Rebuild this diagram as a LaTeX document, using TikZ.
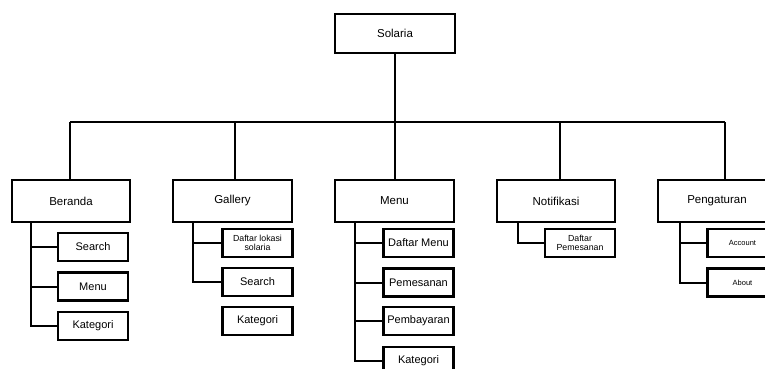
\documentclass[tikz,border=0pt]{standalone}
\usepackage{fontspec}
\setmainfont{Liberation Sans}
\begin{document}
\begin{tikzpicture}[x=1pt,y=-1pt,
  box/.style={draw=black,line width=2.2pt,fill=white,inner sep=0pt,align=center,font=\fontsize{11}{12}\selectfont},
  mainbox/.style={box,minimum width=118pt,minimum height=42pt,font=\fontsize{11.5}{12}\selectfont},
  subbox/.style={box,minimum width=70pt,minimum height=28pt},
  smallbox/.style={subbox,font=\fontsize{8.8}{9.5}\selectfont},
  tinybox/.style={subbox,font=\fontsize{7.5}{8}\selectfont},
  link/.style={draw=black,line width=2pt}]
\useasboundingbox (0,0) rectangle (765,369);
\clip (0,0) rectangle (765,369);
\fill[white] (0,0) rectangle (765,369);
% top
\node[mainbox,minimum width=120pt,minimum height=39pt] (sol) at (395,33.5) {Solaria};
% main nodes
\node[mainbox] (ber) at (71,201) {Beranda};
\node[mainbox,minimum width=119pt] (gal) at (232.5,201) {Gallery};
\node[mainbox,minimum width=119pt] (men) at (394.5,201) {Menu};
\node[mainbox] (not) at (556,201) {Notifikasi};
\node[mainbox] (pen) at (717,201) {Pengaturan};
% bus
\coordinate (busL) at (70,122);
\coordinate (busR) at (725,122);
\coordinate (busS) at (395,122);
\draw[link] (sol.south) -- (busS);
\draw[link] (busL) -- (busR);
\draw[link] (busL) -- (busL |- ber.north);
\draw[link] (235,122) -- (235,180);
\draw[link] (busS) -- (busS |- men.north);
\draw[link] (560,122) -- (560,180);
\draw[link] (busR) -- (busR |- pen.north);
% Beranda children
\node[subbox] (b1) at (93,247) {Search};
\node[subbox] (b2) at (93,286.5) {Menu};
\node[subbox] (b3) at (93,326) {Kategori};
\coordinate (bt) at (31,222);
\draw[link] (ber.south -| bt) |- (b3.west);
\draw[link] (bt |- b1.west) -- (b1.west);
\draw[link] (bt |- b2.west) -- (b2.west);
% Gallery children
\node[smallbox] (g1) at (257.5,243) {Daftar lokasi\\solaria};
\node[subbox] (g2) at (257.5,282) {Search};
\node[subbox] (g3) at (257.5,321) {Kategori};
\coordinate (gt) at (193,222);
\draw[link] (gal.south -| gt) |- (g2.west);
\draw[link] (gt |- g1.west) -- (g1.west);
% Menu children
\node[subbox] (m1) at (418.5,243) {Daftar Menu};
\node[subbox] (m2) at (418.5,282.5) {Pemesanan};
\node[subbox] (m3) at (418.5,321) {Pembayaran};
\node[subbox] (m4) at (418.5,361) {Kategori};
\coordinate (mt) at (355,222);
\draw[link] (men.south -| mt) |- (m4.west);
\draw[link] (mt |- m1.west) -- (m1.west);
\draw[link] (mt |- m2.west) -- (m2.west);
\draw[link] (mt |- m3.west) -- (m3.west);
% Notifikasi children
\node[smallbox] (n1) at (580,243) {Daftar\\Pemesanan};
\coordinate (nt) at (518,222);
\draw[link] (not.south -| nt) |- (n1.west);
% Pengaturan children
\node[tinybox] (p1) at (742.5,243) {Account};
\node[tinybox] (p2) at (742.5,282.5) {About};
\coordinate (pt) at (680,222);
\draw[link] (pen.south -| pt) |- (p2.west);
\draw[link] (pt |- p1.west) -- (p1.west);
\end{tikzpicture}
\end{document}
